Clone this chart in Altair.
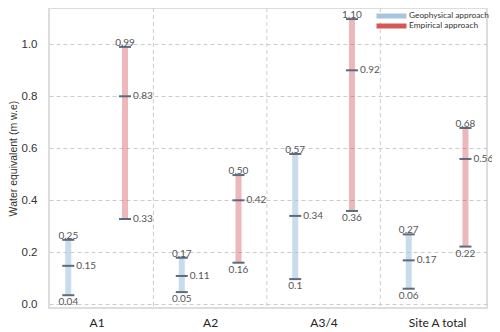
import altair as alt
import pandas as pd

categories = ["A1", "A2", "A3/4", "Site A total"]
series = ["Geophysical approach", "Empirical approach"]

# drawn positions (m w.e.)
geo_min = [0.035, 0.047, 0.097, 0.06]
geo_mid = [0.148, 0.109, 0.34, 0.169]
geo_max = [0.248, 0.179, 0.578, 0.269]
emp_min = [0.328, 0.16, 0.359, 0.222]
emp_mid = [0.80, 0.40, 0.90, 0.559]
emp_max = [0.99, 0.497, 1.097, 0.678]

# printed labels
geo_min_lbl = ["0.04", "0.05", "0.1", "0.06"]
geo_mid_lbl = ["0.15", "0.11", "0.34", "0.17"]
geo_max_lbl = ["0.25", "0.17", "0.57", "0.27"]
emp_min_lbl = ["0.33", "0.16", "0.36", "0.22"]
emp_mid_lbl = ["0.83", "0.42", "0.92", "0.56"]
emp_max_lbl = ["0.99", "0.50", "1.10", "0.68"]

rows = []
for i, c in enumerate(categories):
    for s, off, mn, md, mx, l1, l2, l3 in [
        (series[0], -0.25, geo_min[i], geo_mid[i], geo_max[i], geo_min_lbl[i], geo_mid_lbl[i], geo_max_lbl[i]),
        (series[1], 0.25, emp_min[i], emp_mid[i], emp_max[i], emp_min_lbl[i], emp_mid_lbl[i], emp_max_lbl[i]),
    ]:
        rows.append(dict(cat=c, series=s, x=i + off, lo=mn, mid=md, hi=mx,
                         lo_lbl=l1, mid_lbl=l2, hi_lbl=l3,
                         lo_right=(i == 0 and s == series[1])))
df = pd.DataFrame(rows)
grid_df = pd.DataFrame({"x": [i + 0.5 for i in range(len(categories) - 1)]})

label_expr = "[" + ",".join("'%s'" % c for c in categories) + "][datum.value]"

xscale = alt.Scale(domain=[-0.42, 3.44], nice=False, zero=False)
yscale = alt.Scale(domain=[-0.0142, 1.1396], nice=False, zero=False)

X = alt.X("x:Q", scale=xscale,
          axis=alt.Axis(values=[0, 1, 2, 3], labelExpr=label_expr, grid=False, ticks=False,
                        domain=False, labelPadding=9, labelFontSize=12, labelFont="Lato",
                        labelColor="#222", title=None))
Yaxis = alt.Axis(values=[0, 0.2, 0.4, 0.6, 0.8, 1.0], format=".1f", ticks=False, domain=False,
                 gridDash=[4, 3], gridColor="#cccccc", labelPadding=12, labelFontSize=11.5,
                 labelFont="Liberation Sans", labelColor="#333",
                 title="Water equivalent (m w.e)", titleFont="Liberation Sans",
                 titleFontSize=10.5, titleFontWeight="normal", titleColor="#333",
                 titlePadding=3)

base = alt.Chart(df)

vgrid = alt.Chart(grid_df).mark_rule(color="#cccccc", strokeDash=[4, 3], strokeWidth=1).encode(
    x=X, y=alt.value(0), y2=alt.value(300))

color = alt.Color("series:N", scale=alt.Scale(domain=series, range=["#a6c6df", "#d45657"]),
                  legend=alt.Legend(title=None, orient="none", legendX=321, legendY=3,
                                    symbolType="M-3.75,0H3.75", symbolSize=64, symbolStrokeWidth=5,
                                    symbolOpacity=1, symbolOffset=15, clipHeight=10,
                                    labelFont="Lato", labelFontSize=8.3,
                                    labelColor="#333", rowPadding=0, labelOffset=11, padding=0))

bars_geo = base.transform_filter(alt.datum.series == series[0]).mark_rule(
    strokeWidth=6, strokeCap="butt", opacity=0.62).encode(
    x=X, y=alt.Y("lo:Q", scale=yscale, axis=Yaxis), y2="hi:Q", color=color)
bars_emp = base.transform_filter(alt.datum.series == series[1]).mark_rule(
    strokeWidth=6, strokeCap="butt", opacity=0.42).encode(
    x=X, y=alt.Y("lo:Q", scale=yscale, axis=Yaxis), y2="hi:Q", color=color)

capc = "#5b6a7e"
def cap(field):
    return base.mark_tick(orient="horizontal", size=12, thickness=2, color=capc, opacity=1).encode(
        x=X, y=alt.Y(field + ":Q", scale=yscale, axis=Yaxis))

tstyle = dict(font="Lato", fontSize=10, color="#555")
t_hi = base.mark_text(baseline="alphabetic", align="center", dy=-1, **tstyle).encode(
    x=X, y=alt.Y("hi:Q", scale=yscale, axis=Yaxis), text="hi_lbl:N")
t_mid = base.mark_text(baseline="middle", align="left", dx=8, **tstyle).encode(
    x=X, y=alt.Y("mid:Q", scale=yscale, axis=Yaxis), text="mid_lbl:N")
t_lo = base.transform_filter("!datum.lo_right").mark_text(baseline="top", align="center", dy=2, **tstyle).encode(
    x=X, y=alt.Y("lo:Q", scale=yscale, axis=Yaxis), text="lo_lbl:N")
t_lo_r = base.transform_filter("datum.lo_right").mark_text(baseline="middle", align="left", dx=8, **tstyle).encode(
    x=X, y=alt.Y("lo:Q", scale=yscale, axis=Yaxis), text="lo_lbl:N")

chart = alt.layer(vgrid, bars_geo, bars_emp, cap("lo"), cap("mid"), cap("hi"),
                  t_hi, t_mid, t_lo, t_lo_r).properties(
    width=438, height=300,
    autosize=alt.AutoSizeParams(type="none"),
    padding={"left": 41, "top": 0, "right": 5, "bottom": 24},
).configure_view(stroke="#dddddd", strokeWidth=2)

chart.save("out.html", embed_options={"renderer": "svg", "actions": False})
